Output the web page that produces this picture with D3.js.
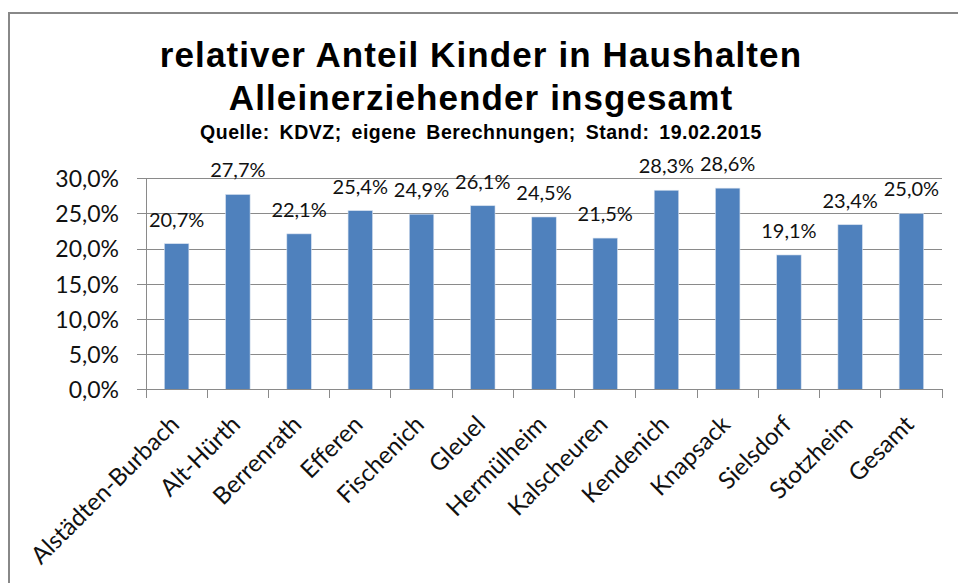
<!DOCTYPE html>
<html>
<head>
<meta charset="utf-8">
<script src="https://cdn.jsdelivr.net/npm/d3@7"></script>
<style>
  html, body { margin: 0; padding: 0; background: #fff; }
  svg { display: block; }
</style>
</head>
<body>
<svg id="chart" width="958" height="583"></svg>
<script>
const categories = ["Alstädten-Burbach", "Alt-Hürth", "Berrenrath", "Efferen", "Fischenich", "Gleuel", "Hermülheim", "Kalscheuren", "Kendenich", "Knapsack", "Sielsdorf", "Stotzheim", "Gesamt"];
const values = [20.7, 27.7, 22.1, 25.4, 24.9, 26.1, 24.5, 21.5, 28.3, 28.6, 19.1, 23.4, 25.0];
const yTicks = [0, 5, 10, 15, 20, 25, 30];
const titleLines = ["relativer Anteil Kinder in Haushalten", "Alleinerziehender insgesamt"];
const subtitle = "Quelle: KDVZ; eigene Berechnungen; Stand: 19.02.2015";

const svg = d3.select("#chart");
const W = 958, H = 583;
const plot = { left: 146, right: 942, top: 178.3, bottom: 389.3 };
const gridColor = "#8a8a8a";
const labelFont = "Lato, 'Open Sans', sans-serif";
const fmt = v => d3.format(".1f")(v).replace(".", ",") + "%";

// outer frame
svg.append("rect")
  .attr("x", 9).attr("y", 13)
  .attr("width", W + 20).attr("height", H + 20)
  .attr("fill", "none").attr("stroke", "#888").attr("stroke-width", 2);

// titles
const tg = svg.append("g").attr("font-family", "'Liberation Sans', Arial, sans-serif")
  .attr("font-weight", "bold").attr("fill", "#000").attr("text-anchor", "middle");
tg.selectAll("text.t").data(titleLines).join("text")
  .attr("class", "t")
  .attr("x", 481).attr("y", (d, i) => 67.4 + i * 42.6)
  .attr("font-size", 35).attr("letter-spacing", 1.1)
  .text(d => d);
tg.append("text").attr("x", 481).attr("y", 138.7)
  .attr("font-size", 19.5).attr("letter-spacing", 0.5).attr("word-spacing", 4)
  .text(subtitle);

const x = d3.scaleBand().domain(categories).range([plot.left, plot.right])
  .paddingInner(0.6).paddingOuter(0.3);
const y = d3.scaleLinear().domain([0, 30]).range([plot.bottom, plot.top]);

// y axis with gridlines
const yAxis = d3.axisLeft(y).tickValues(yTicks)
  .tickSize(-(plot.right - plot.left)).tickFormat(fmt);
const gy = svg.append("g").attr("transform", `translate(${plot.left},0)`).call(yAxis);
gy.select(".domain").remove();
gy.selectAll(".tick line").attr("stroke", gridColor).attr("x1", -9).attr("shape-rendering", "crispEdges");
gy.selectAll(".tick text")
  .attr("x", -27).attr("dy", "0.36em")
  .attr("font-family", labelFont).attr("font-size", 23).attr("fill", "#111");

// y axis line
svg.append("line").attr("x1", plot.left).attr("x2", plot.left)
  .attr("y1", plot.top).attr("y2", plot.bottom + 9)
  .attr("stroke", gridColor).attr("shape-rendering", "crispEdges");

// bars
svg.append("g").selectAll("rect").data(values).join("rect")
  .attr("x", (d, i) => x(categories[i]))
  .attr("y", d => y(d))
  .attr("width", x.bandwidth())
  .attr("height", d => y(0) - y(d))
  .attr("fill", "#4F81BD")
  .attr("stroke", "#d6e0ee").attr("stroke-width", 0.6);

// x axis baseline and ticks at category boundaries
svg.append("line").attr("x1", plot.left).attr("x2", plot.right)
  .attr("y1", plot.bottom).attr("y2", plot.bottom)
  .attr("stroke", gridColor).attr("shape-rendering", "crispEdges");
const step = x.step();
svg.append("g").selectAll("line").data(d3.range(categories.length + 1)).join("line")
  .attr("x1", i => plot.left + i * step).attr("x2", i => plot.left + i * step)
  .attr("y1", plot.bottom).attr("y2", plot.bottom + 9)
  .attr("stroke", gridColor).attr("shape-rendering", "crispEdges");

// x labels
svg.append("g").selectAll("text").data(categories).join("text")
  .attr("transform", d => `translate(${x(d) + x.bandwidth() / 2 + 4},426) rotate(-45)`)
  .attr("text-anchor", "end")
  .attr("font-family", labelFont).attr("font-size", 24).attr("fill", "#111")
  .text(d => d);

// data labels
svg.append("g").selectAll("text").data(values).join("text")
  .attr("x", (d, i) => x(categories[i]) + x.bandwidth() / 2)
  .attr("y", d => y(d) - 17)
  .attr("text-anchor", "middle")
  .attr("font-family", labelFont).attr("font-size", 20).attr("fill", "#111")
  .text(d => fmt(d));
</script>
</body>
</html>
